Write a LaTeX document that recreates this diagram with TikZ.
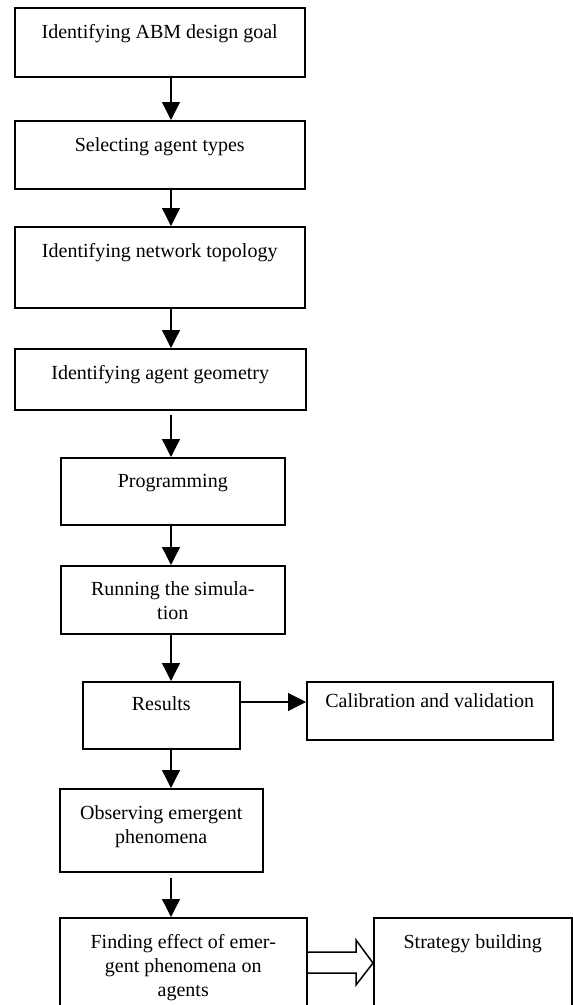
\documentclass[tikz,border=0pt]{standalone}
\usepackage{fontspec}
\setmainfont{Liberation Serif}
\usetikzlibrary{arrows.meta, positioning}

\begin{document}
\begin{tikzpicture}[
      x=1pt, y=-1pt,
      stage/.style={
          draw=black,
          line width=1.5pt,
          anchor=north west,
          inner sep=0pt
        },
      stagetext/.style={
          anchor=north,
          yshift=-17pt,
          inner sep=0pt,
          align=center,
          font=\fontsize{20}{24}\selectfont
        },
      flow/.style={-{Triangle[length=18pt, width=18pt]}, black, line width=1.3pt},
      hollow/.style={black, line width=1.5pt, line join=miter}
    ]
    \useasboundingbox (0,0) rectangle (573,1005);
    \clip (0,0) rectangle (573,1005);

    \node[stage, minimum width=290pt, minimum height=69pt, label={[stagetext]north:Identifying ABM design goal}] (goal) at (14,7) {};
    \node[stage, minimum width=290pt, minimum height=68pt, label={[stagetext]north:Selecting agent types}] (types) at (14,120) {};
    \node[stage, minimum width=290pt, minimum height=81pt, label={[stagetext]north:Identifying network topology}] (topology) at (14,226) {};
    \node[stage, minimum width=291pt, minimum height=61pt, label={[stagetext]north:Identifying agent geometry}] (geometry) at (14,348) {};

    \node[stage, minimum width=224pt, minimum height=67pt, label={[stagetext]north:Programming}] (programming) at (60,457) {};
    \node[stage, minimum width=224pt, minimum height=68pt, label={[stagetext, yshift=1pt]north:Running the simula-\\tion}] (running) at (60,565) {};

    \node[stage, minimum width=157pt, minimum height=67pt, label={[stagetext, yshift=2pt]north:Results}] (results) at (82,681) {};
    \node[stage, minimum width=246pt, minimum height=58pt, label={[stagetext, yshift=5pt]north:Calibration and validation}] (calibration) at (306,681) {};

    \node[stage, minimum width=203pt, minimum height=83pt, label={[stagetext]north:Observing emergent\\phenomena}] (observing) at (59,788) {};
    \node[stage, minimum width=247pt, minimum height=110pt, label={[stagetext]north:Finding effect of emer-\\gent phenomena on\\agents}] (finding) at (59,917) {};
    \node[stage, minimum width=198pt, minimum height=110pt, label={[stagetext]north:Strategy building}] (strategy) at (373,917) {};

    % arrows run down one column, not through box centres
    \coordinate (spine) at (171,0);
    \coordinate (resrow) at (0,702);
    \coordinate (hollowtop) at (0,952);
    \coordinate (hollowmid) at (0,963);
    \coordinate (hollowbot) at (0,973);

    \draw[flow] (goal.south -| spine) -- (types.north -| spine);
    \draw[flow] (types.south -| spine) -- (topology.north -| spine);
    \draw[flow] (topology.south -| spine) -- (geometry.north -| spine);
    \draw[flow, shorten <=4pt] (geometry.south -| spine) -- (programming.north -| spine);
    \draw[flow] (programming.south -| spine) -- (running.north -| spine);
    \draw[flow] (running.south -| spine) -- (results.north -| spine);
    \draw[flow] (results.south -| spine) -- (observing.north -| spine);
    \draw[flow, shorten <=5pt] (observing.south -| spine) -- (finding.north -| spine);
    \draw[flow] (results.east |- resrow) -- (calibration.west |- resrow);

    \draw[hollow] (finding.east |- hollowtop) -- (356,952) -- (356,940) -- (strategy.west |- hollowmid)
      -- (356,985) -- (356,973) -- (finding.east |- hollowbot);
  \end{tikzpicture}
\end{document}
